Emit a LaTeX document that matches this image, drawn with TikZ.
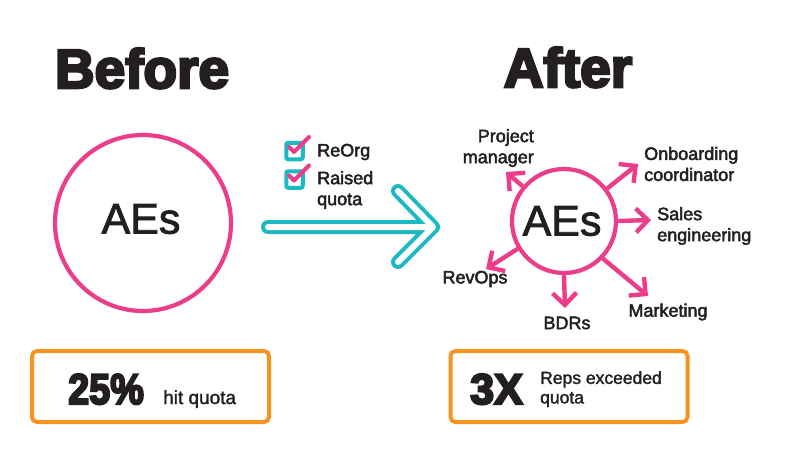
\documentclass[tikz,border=0pt]{standalone}
\usepackage{fontspec}
\setmainfont{Liberation Sans}
\usetikzlibrary{arrows.meta}
\definecolor{mypink}{HTML}{EC3D8A}
\definecolor{myteal}{HTML}{1DB9C3}
\definecolor{myorange}{HTML}{F7931E}
\definecolor{ink}{HTML}{231F20}
\newcommand\embold[2]{\special{pdf:literal direct 2 Tr #1 w}#2\special{pdf:literal direct 0 Tr}}
\begin{document}
\begin{tikzpicture}[x=1pt,y=-1pt,
  title/.style={font=\bfseries\fontsize{55}{60}\selectfont, text=ink, inner sep=0},
  bigaes/.style={font=\fontsize{43}{46}\selectfont, text=ink, inner sep=0},
  ring/.style={circle, draw=mypink, line width=4.2pt, inner sep=0},
  lbl/.style={font=\fontsize{18}{21}\selectfont, text=ink, inner sep=0},
  parrow/.style={draw=mypink, line width=4.4pt, -{Straight Barb[length=12pt,width=24pt]}},
  chkbox/.style={rectangle, draw=myteal, line width=4pt, rounded corners=2pt, minimum size=16.5pt, inner sep=0},
  checkmark/.style={draw=mypink, line width=4pt, line cap=round, line join=round},
  arrowouter/.style={draw=myteal, line width=14pt, line cap=round, line join=round},
  arrowinner/.style={draw=white, line width=6pt, line cap=round, line join=round},
  statbox/.style={rectangle, draw=myorange, line width=4pt, rounded corners=5pt, minimum width=237pt, minimum height=71pt, inner sep=0},
  statnum/.style={font=\bfseries\fontsize{43}{46}\selectfont, text=ink, inner sep=0},
  stattxt/.style={font=\fontsize{19}{18}\selectfont, text=ink, inner sep=0}
]
\useasboundingbox (0,0) rectangle (789,467);
\fill[white] (0,0) rectangle (789,467);

% titles
\node[title, anchor=base] (before) at (142,88) {\embold{2.6}{Before}};
\node[title, anchor=base] (after) at (568,87) {\embold{2.6}{After}};

% left circle
\node[ring, minimum size=176pt] (aesL) at (143,223) {};
\node[bigaes] (aesLtxt) at (141,219) {\embold{0.8}{AEs}};

% checklist
\node[chkbox] (cb1) at (294.5,151) {};
\node[chkbox] (cb2) at (294.5,179.5) {};
\draw[checkmark] (289,147) -- (294,152) -- (309,137);
\draw[checkmark] (289,175.5) -- (294,180.5) -- (309,165.5);
\node[lbl, anchor=west] (reorg) at (317,152) {\embold{0.45}{ReOrg}};
\node[lbl, anchor=west, align=left] (raised) at (317,190) {\embold{0.45}{Raised}\\\embold{0.45}{quota}};

% big arrow
\coordinate (ashaft) at (268,227);
\coordinate (atip) at (433,227);
\coordinate (atop) at (398,191);
\coordinate (abot) at (398,262);
\draw[arrowouter] (ashaft) -- (atip) (atop) -- (atip) -- (abot);
\draw[arrowinner] (ashaft) -- (atip) (atop) -- (atip) -- (abot);

% right circle
\node[ring, minimum size=104pt] (aesR) at (564,221) {};
\node[bigaes] (aesRtxt) at (562,221) {\embold{0.8}{AEs}};

% spokes
\coordinate (pmtip) at (506,172);
\coordinate (ontip) at (638,164);
\coordinate (setip) at (651,220);
\coordinate (mktip) at (648,296);
\coordinate (bdtip) at (565,308);
\coordinate (rotip) at (486,269);
\draw[parrow] (aesR.140) -- (pmtip);
\draw[parrow] (aesR.37) -- (ontip);
\draw[parrow] (aesR.0) -- (setip);
\draw[parrow] (aesR.-44) -- (mktip);
\draw[parrow] (aesR.-90) -- (bdtip);
\draw[parrow] (aesR.211) -- (rotip);

% spoke labels
\node[lbl, anchor=east, align=right] (pm) at (534,148) {\embold{0.45}{Project}\\\embold{0.45}{manager}};
\node[lbl, anchor=west, align=left] (onb) at (644,164) {\embold{0.45}{Onboarding}\\\embold{0.45}{coordinator}};
\node[lbl, anchor=west, align=left] (sales) at (657,226) {\embold{0.45}{Sales}\\\embold{0.45}{engineering}};
\node[lbl] (revops) at (475,279) {\embold{0.45}{RevOps}};
\node[lbl] (bdrs) at (567,323) {\embold{0.45}{BDRs}};
\node[lbl] (mkt) at (668,312) {\embold{0.45}{Marketing}};

% stat boxes
\node[statbox] (boxL) at (150.5,386.5) {};
\node[statbox] (boxR) at (569,386.5) {};
\node[statnum, anchor=base west, xscale=0.88] (pct) at (68,404) {\embold{2.2}{25\%}};
\node[stattxt, anchor=base west] (hit) at (163,404) {\embold{0.3}{hit quota}};
\node[statnum, anchor=base west] (three) at (470,404) {\embold{2.2}{3X}};
\node[font=\fontsize{17.5}{19.5}\selectfont, text=ink, inner sep=0, anchor=north west, align=left] (reps) at (540,371) {\embold{0.3}{Reps exceeded}\\\embold{0.3}{quota}};
\end{tikzpicture}
\end{document}
